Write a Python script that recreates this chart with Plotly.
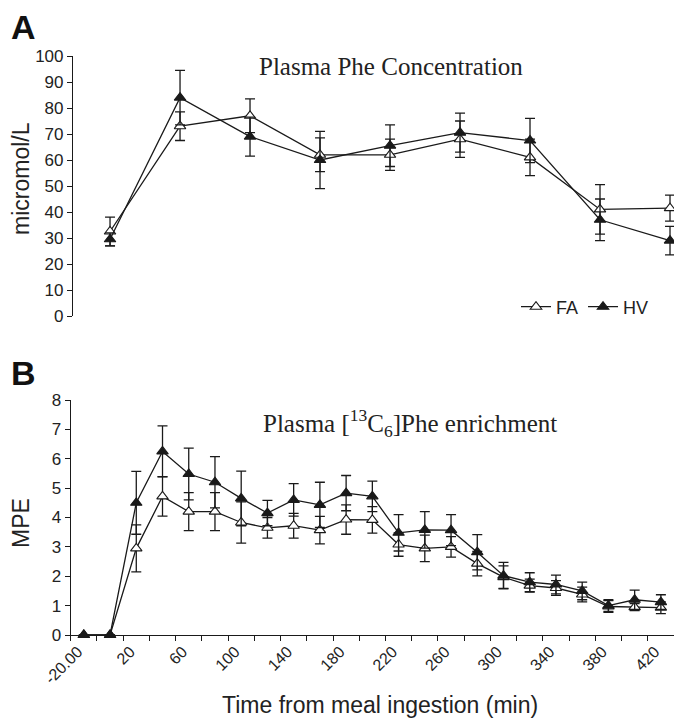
import plotly.graph_objects as go

# ---------------- Panel A: Plasma Phe concentration (micromol/L) ----------------
a_samples = [1, 2, 3, 4, 5, 6, 7, 8, 9]
a_fa = [32.5, 73, 77, 62, 62, 68, 61, 41, 41.5]
a_fa_err = [5.5, 5.5, 6.5, 6.5, 6, 7, 7, 9.5, 5]
a_hv = [29.5, 84, 69, 60, 65.5, 70.5, 67.5, 37, 29]
a_hv_err = [2.5, 10.5, 7.5, 11, 8, 7.5, 8.5, 8, 5.5]

# ---------------- Panel B: Plasma [13C6]Phe enrichment (MPE) ----------------
b_times = [-20, 0, 20, 40, 60, 80, 100, 120, 140, 160, 180, 200, 220, 240,
           260, 280, 300, 320, 340, 360, 380, 400, 420]
b_fa = [0, 0, 2.95, 4.72, 4.2, 4.2, 3.83, 3.65, 3.72, 3.57, 3.93, 3.92, 3.08,
        2.95, 3.0, 2.43, 1.97, 1.68, 1.6, 1.38, 0.97, 0.95, 0.93]
b_fa_err = [0, 0, 0.8, 0.67, 0.65, 0.65, 0.7, 0.35, 0.42, 0.47, 0.5, 0.45, 0.4,
            0.45, 0.35, 0.42, 0.38, 0.22, 0.25, 0.25, 0.2, 0.12, 0.2]
b_hv = [0, 0, 4.5, 6.25, 5.48, 5.2, 4.65, 4.15, 4.6, 4.43, 4.83, 4.72, 3.48,
        3.58, 3.57, 2.82, 2.02, 1.8, 1.72, 1.5, 1.0, 1.2, 1.12]
b_hv_err = [0, 0, 1.07, 0.87, 0.88, 0.87, 0.93, 0.43, 0.55, 0.77, 0.6, 0.52, 0.62,
            0.62, 0.53, 0.6, 0.45, 0.32, 0.32, 0.3, 0.2, 0.33, 0.25]

a_yticks = [0, 10, 20, 30, 40, 50, 60, 70, 80, 90, 100]
b_yticks = [0, 1, 2, 3, 4, 5, 6, 7, 8]
b_label_times = [t for t in b_times if (t + 20) % 40 == 0]
b_label_text = ["-20.00" if t == -20 else str(t) for t in b_label_times]

W, H = 674, 722
SANS = "Liberation Sans, Arial, sans-serif"
SERIF = "Liberation Serif, Times New Roman, serif"
LINE = "#1a1a1a"


def px_x(p):
    return p / W


def px_y(p):
    return 1 - p / H


fig = go.Figure()


def add_series(x, y, err, xa, ya, name, filled, show):
    fig.add_trace(go.Scatter(
        x=x, y=y, xaxis=xa, yaxis=ya, name=name, mode="lines+markers",
        showlegend=show, legendgroup=name,
        line=dict(color=LINE, width=1.3),
        marker=dict(symbol="triangle-up", size=10,
                    color=LINE if filled else "white",
                    line=dict(color=LINE, width=1.1)),
        error_y=dict(type="data", array=err, symmetric=True, color=LINE,
                     thickness=1.3, width=5),
        cliponaxis=False,
    ))


add_series(a_samples, a_fa, a_fa_err, "x", "y", "FA", False, True)
add_series(a_samples, a_hv, a_hv_err, "x", "y", "HV", True, True)
add_series(b_times, b_fa, b_fa_err, "x2", "y2", "FA", False, False)
add_series(b_times, b_hv, b_hv_err, "x2", "y2", "HV", True, False)

fig.update_layout(
    template="none",
    xaxis=dict(domain=[px_x(73), 1], range=[0.471, 9.057], visible=False,
               anchor="y", automargin=False),
    yaxis=dict(domain=[px_y(316), px_y(56)], range=[0, 100], anchor="x",
               automargin=False,
               tickvals=a_yticks, ticks="outside", ticklen=5, tickwidth=1.2,
               tickcolor=LINE, showline=True, linecolor=LINE, linewidth=1.2,
               showgrid=False, zeroline=False,
               tickfont=dict(family=SANS, size=17, color="#222")),
    xaxis2=dict(domain=[px_x(70.7), 1], range=[-30, 430], anchor="y2",
                automargin=False,
                tickvals=b_label_times, ticktext=b_label_text, ticks="",
                tickangle=-45, ticklabelshift=-6,
                showline=True, linecolor=LINE, linewidth=1.2,
                showgrid=False, zeroline=False,
                tickfont=dict(family=SANS, size=16, color="#222"),
                minor=dict(tickmode="linear", tick0=-10, dtick=20,
                           ticks="outside", ticklen=5, tickwidth=1.2,
                           tickcolor=LINE, showgrid=False)),
    yaxis2=dict(domain=[px_y(635), px_y(400)], range=[0, 8], anchor="x2",
                automargin=False,
                tickvals=b_yticks, ticks="outside", ticklen=5, tickwidth=1.2,
                tickcolor=LINE, showline=True, linecolor=LINE, linewidth=1.2,
                showgrid=False, zeroline=False,
                tickfont=dict(family=SANS, size=17, color="#222")),
)

ann = [
    dict(text="<b>A</b>", x=px_x(9), y=px_y(27), xanchor="left", yanchor="middle",
         font=dict(family=SANS, size=34, color="#111")),
    dict(text="<b>B</b>", x=px_x(9), y=px_y(373), xanchor="left", yanchor="middle",
         font=dict(family=SANS, size=34, color="#111")),
    dict(text="Plasma Phe Concentration", x=px_x(391), y=px_y(66),
         xanchor="center", yanchor="middle",
         font=dict(family=SERIF, size=25, color="#222")),
    dict(text="Plasma [<sup>13</sup>C<sub>6</sub>]Phe enrichment", x=px_x(410),
         y=px_y(423), xanchor="center", yanchor="middle",
         font=dict(family=SERIF, size=25, color="#222")),
    dict(text="micromol/L", x=px_x(21), y=px_y(179), textangle=-90,
         xanchor="center", yanchor="middle",
         font=dict(family=SANS, size=23, color="#222")),
    dict(text="MPE", x=px_x(21), y=px_y(523), textangle=-90,
         xanchor="center", yanchor="middle",
         font=dict(family=SANS, size=23, color="#222")),
    dict(text="Time from meal ingestion (min)", x=px_x(380), y=px_y(705),
         xanchor="center", yanchor="middle",
         font=dict(family=SANS, size=23, color="#222")),
]
for a in ann:
    a.update(xref="paper", yref="paper", showarrow=False)

fig.update_layout(
    width=W, height=H, margin=dict(l=0, r=0, t=0, b=0, pad=0),
    paper_bgcolor="white", plot_bgcolor="white",
    annotations=ann,
    showlegend=True,
    legend=dict(orientation="h", x=px_x(516), y=px_y(307), xanchor="left",
                yanchor="middle", bgcolor="rgba(0,0,0,0)",
                font=dict(family=SANS, size=18, color="#222"),
                itemwidth=30, tracegroupgap=0),
)

fig.write_html(
    "out.html",
    config={"displayModeBar": False},
    post_script="document.body.style.margin='0';"
                "document.documentElement.style.overflow='hidden';",
)
